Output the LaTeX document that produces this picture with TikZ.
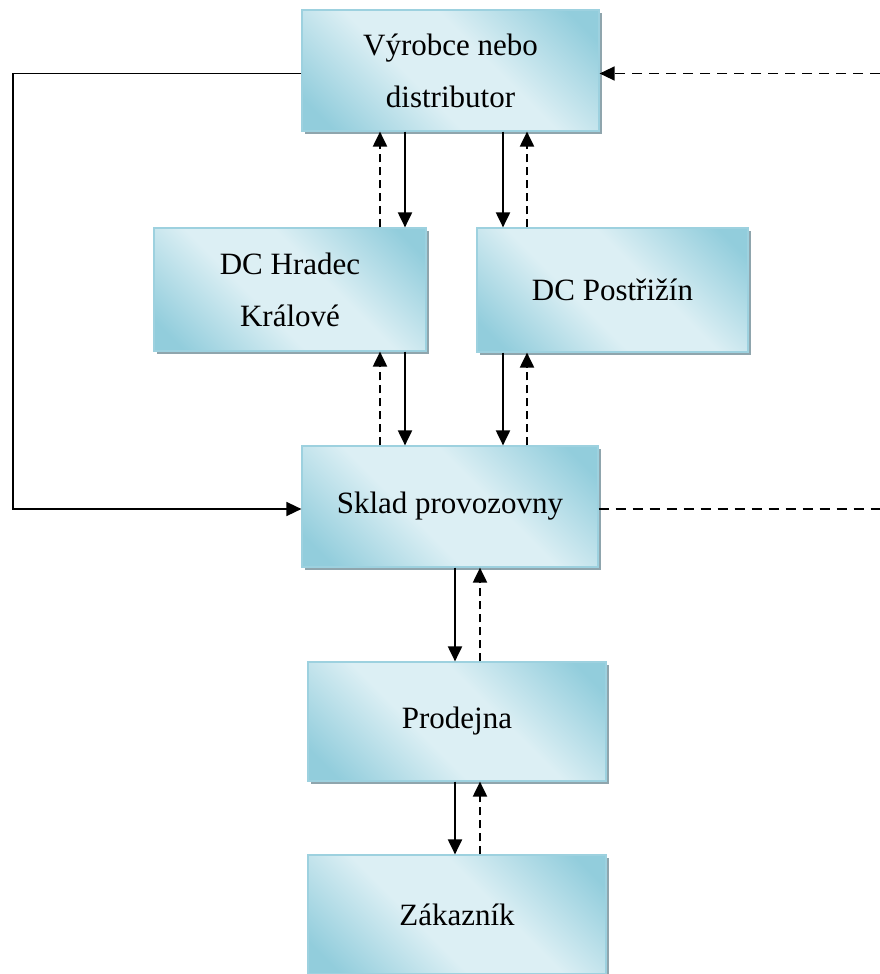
\documentclass[tikz,border=0pt]{standalone}
\usepackage{fontspec}
\setmainfont{Liberation Serif}
\usetikzlibrary{arrows.meta,shadows}

\definecolor{boxdark}{HTML}{92CDDC}
\definecolor{boxlight}{HTML}{DCEFF4}
\definecolor{boxedge}{HTML}{9DD1DF}
\definecolor{boxshadow}{HTML}{8FA5AD}
\pgfdeclarehorizontalshading{boxshade}{100bp}{color(0bp)=(boxdark); color(20bp)=(boxdark); color(42bp)=(boxlight); color(58bp)=(boxlight); color(80bp)=(boxdark); color(100bp)=(boxdark)}

\tikzset{
  flowbox/.style={rectangle, draw=boxedge, line width=1.2pt, shading=boxshade, shading angle=45,
    drop shadow={shadow xshift=3pt, shadow yshift=-3pt, fill=boxshadow, opacity=1},
    inner sep=0pt, align=center, font=\fontsize{31}{52}\selectfont},
  goods/.style={line width=2pt, -{Triangle[length=15pt,width=14pt]}},
  info/.style={line width=2pt, dash pattern=on 8pt off 5pt, -{Triangle[length=15pt,width=14pt]}},
  infolong/.style={line width=1.6pt, dash pattern=on 10pt off 7pt}
}

\begin{document}
\begin{tikzpicture}[x=1pt,y=-1pt]
			%%%%% START %%%%%
			\useasboundingbox (0,0) rectangle (880,974);
			\clip (0,0) rectangle (880,974);
			
			\node[flowbox, minimum width=297pt, minimum height=121pt] (vyrobce) at (450.5,70.5) {Výrobce nebo\\distributor};
			\node[flowbox, minimum width=272pt, minimum height=123pt] (hradec) at (290,289.5) {DC Hradec\\Králové};
			\node[flowbox, minimum width=271pt, minimum height=124pt] (postrizin) at (612.5,290) {DC Postřižín};
			\node[flowbox, minimum width=296pt, minimum height=121pt] (sklad) at (450,506.5) {Sklad provozovny};
			\node[flowbox, minimum width=298pt, minimum height=119pt] (prodejna) at (457,721.5) {Prodejna};
			\node[flowbox, minimum width=298pt, minimum height=119pt] (zakaznik) at (457,914.5) {Zákazník};
			
			% x positions of the vertical arrows
			\coordinate (xa) at (380,0);
			\coordinate (xb) at (405,0);
			\coordinate (xc) at (503,0);
			\coordinate (xd) at (527,0);
			\coordinate (xe) at (455,0);
			\coordinate (xf) at (480,0);
			
			\draw[info] (hradec.north -| xa) -- (vyrobce.south -| xa);
			\draw[goods] (vyrobce.south -| xb) -- (hradec.north -| xb);
			\draw[goods] (vyrobce.south -| xc) -- (postrizin.north -| xc);
			\draw[info] (postrizin.north -| xd) -- (vyrobce.south -| xd);
			
			\draw[info] (sklad.north -| xa) -- (hradec.south -| xa);
			\draw[goods] (hradec.south -| xb) -- (sklad.north -| xb);
			\draw[goods] (postrizin.south -| xc) -- (sklad.north -| xc);
			\draw[info] (sklad.north -| xd) -- (postrizin.south -| xd);
			
			\draw[goods] (sklad.south -| xe) -- (prodejna.north -| xe);
			\draw[info] (prodejna.north -| xf) -- (sklad.south -| xf);
			\draw[goods] (prodejna.south -| xe) -- (zakaznik.north -| xe);
			\draw[info] (zakaznik.north -| xf) -- (prodejna.south -| xf);
			
			% direct supply round the left side
			\coordinate (leftx) at (13,0);
			\draw[line width=1.6pt, -{Triangle[length=15pt,width=14pt]}]
			  ([yshift=-3pt]vyrobce.west) -- ([yshift=-3pt]vyrobce.west -| leftx)
			  -- ([yshift=-2.5pt]sklad.west -| leftx) -- ([yshift=-2.5pt]sklad.west);
			
			% information back to the supplier on the right
			\coordinate (rightx) at (880,0);
			\draw[infolong] ([yshift=-2.5pt]sklad.east) -- ([yshift=-2.5pt]sklad.east -| rightx);
			\draw[infolong, -{Triangle[length=15pt,width=14pt]}]
			  ([yshift=-3pt]vyrobce.east -| rightx) -- ([yshift=-3pt]vyrobce.east);
			%%%%% END %%%%%
\end{tikzpicture}
\end{document}
